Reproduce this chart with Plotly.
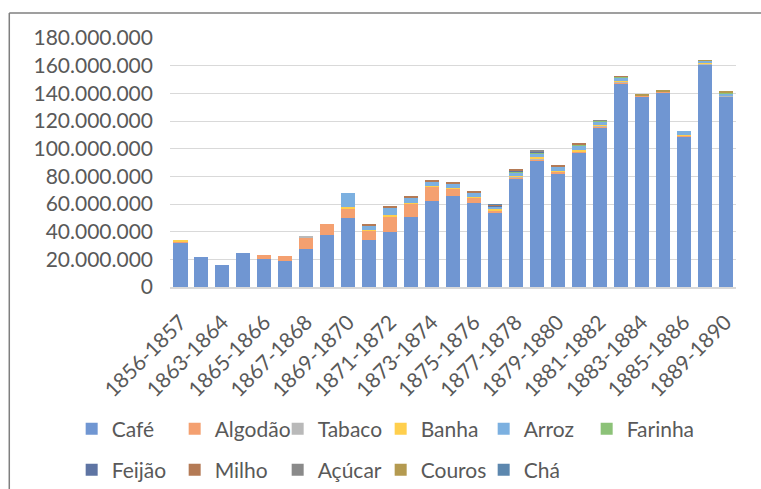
import plotly.graph_objects as go

# Harvest periods (fiscal years)
periods = [
    "1856-1857", "1862-1863", "1863-1864", "1864-1865", "1865-1866", "1866-1867",
    "1867-1868", "1868-1869", "1869-1870", "1870-1871", "1871-1872", "1872-1873",
    "1873-1874", "1874-1875", "1875-1876", "1876-1877", "1877-1878", "1878-1879",
    "1879-1880", "1880-1881", "1881-1882", "1882-1883", "1883-1884", "1884-1885",
    "1885-1886", "1887-1888", "1889-1890",
]

# Export values per product, in millions
cafe = [32.3, 21.4, 15.9, 24.8, 20.2, 19.0, 27.4, 37.8, 50.0, 34.0, 39.7, 50.6, 62.1, 65.9,
        60.8, 53.4, 78.1, 91.3, 82.2, 97.0, 115.0, 147.0, 138.0, 140.4, 108.5, 161.0, 137.5]
algodao = [0.5, 0, 0, 0, 3.1, 3.6, 8.5, 7.7, 7.0, 6.5, 11.5, 9.8, 10.3, 5.2,
           4.0, 2.1, 1.2, 1.0, 1.0, 0.7, 1.0, 0.6, 0.2, 0.8, 0.8, 0, 0.3]
tabaco = [0, 0, 0, 0, 0, 0, 0.5, 0, 0, 0, 0, 0, 0, 0,
          0, 0, 0.5, 0.8, 0, 0.5, 0.4, 1.2, 0.3, 0, 0, 0.5, 0.2]
banha = [1.3, 0, 0, 0, 0, 0, 0, 0, 0.5, 0.5, 0.5, 0.5, 0.7, 0.5,
         0.3, 1.2, 0.8, 0.8, 0.5, 0.8, 0.4, 0.3, 0, 0, 0.5, 0.5, 0]
arroz = [0, 0, 0, 0, 0, 0, 0, 0, 10.4, 3.4, 6.0, 3.8, 3.2, 3.3,
         3.2, 1.8, 2.5, 2.8, 3.2, 3.5, 3.0, 2.5, 0, 0, 2.8, 1.5, 2.0]
farinha = [0, 0, 0, 0, 0, 0, 0, 0, 0, 0, 0, 0, 0, 0,
           0, 0, 0.7, 0.8, 0.3, 0.3, 0.3, 0.4, 0, 0, 0, 0, 0.5]
feijao = [0, 0, 0, 0, 0, 0, 0, 0, 0, 0, 0, 0, 0, 0,
          0, 0.5, 0.3, 0.6, 0, 0.5, 0.3, 0, 0, 0, 0, 0, 0]
milho = [0, 0, 0, 0, 0, 0, 0, 0, 0, 1.0, 1.0, 0.8, 1.0, 0.8,
         0.6, 0.3, 0.7, 0, 0.5, 0.3, 0, 0.3, 0, 0, 0, 0, 0]
acucar = [0, 0, 0, 0, 0, 0, 0, 0, 0, 0, 0, 0, 0, 0,
          0, 0, 0, 0.4, 0, 0, 0.2, 0, 0, 0, 0, 0, 0]
couros = [0, 0, 0, 0, 0, 0, 0, 0, 0, 0, 0, 0, 0, 0,
          0, 0, 0, 0, 0, 0, 0, 0, 1.0, 1.3, 0, 0.3, 0.5]
cha = [0, 0, 0, 0, 0, 0, 0, 0, 0, 0, 0, 0, 0, 0,
       0, 0.2, 0, 0, 0, 0, 0, 0, 0, 0, 0, 0, 0]

series = [
    ("Café", cafe, "#7096D2", "legend"),
    ("Algodão", algodao, "#F4A070", "legend"),
    ("Tabaco", tabaco, "#B9B9B9", "legend"),
    ("Banha", banha, "#FFCF4D", "legend"),
    ("Arroz", arroz, "#7CB0E0", "legend"),
    ("Farinha", farinha, "#8CC278", "legend"),
    ("Feijão", feijao, "#5E74A3", "legend2"),
    ("Milho", milho, "#B47A55", "legend2"),
    ("Açúcar", acucar, "#8A8A8A", "legend2"),
    ("Couros", couros, "#B49A50", "legend2"),
    ("Chá", cha, "#5C87AE", "legend2"),
]

MILLION = 1_000_000
text_color = "#595959"
font_family = "Lato, 'Liberation Sans', sans-serif"
font_size = 21

fig = go.Figure()
for name, vals, color, leg in series:
    fig.add_trace(go.Bar(
        x=periods,
        y=[v * MILLION for v in vals],
        name=name,
        marker=dict(color=color, line=dict(width=0)),
        legend=leg,
    ))

# Blank spacer entry so the last text of the first legend row has room
fig.add_trace(go.Bar(
    x=periods, y=[None] * len(periods), name="\u00a0",
    showlegend=True,
    marker=dict(color="rgba(0,0,0,0)", line=dict(width=0)),
    legend="legend", hoverinfo="skip",
))

W, H = 761, 489
left, right, top, bottom = 169.5, 24.5, 38, 201.5
plot_w = W - left - right
plot_h = H - top - bottom


def px_x(p):
    return (p - left) / plot_w


def px_y(p):
    return (H - bottom - p) / plot_h


legend_common = dict(
    orientation="h",
    xref="paper",
    yref="paper",
    xanchor="left",
    yanchor="middle",
    x=px_x(71),
    entrywidth=58,
    entrywidthmode="pixels",
    font=dict(family=font_family, size=font_size, color=text_color),
    traceorder="normal",
    bgcolor="rgba(0,0,0,0)",
)

fig.update_layout(
    width=W,
    height=H,
    margin=dict(l=left, r=right, t=top, b=bottom, autoexpand=False),
    barmode="stack",
    bargap=0.33,
    plot_bgcolor="white",
    paper_bgcolor="white",
    separators=",.",
    font=dict(family=font_family, size=font_size, color=text_color),
    xaxis=dict(
        type="category",
        categoryorder="array",
        categoryarray=periods,
        tickmode="array",
        tickvals=periods[::2],
        ticktext=periods[::2],
        tickangle=-45,
        showgrid=False,
        showline=True,
        linecolor="#D9D9D9",
        linewidth=1.5,
        ticks="",
        ticklabelstandoff=13,
        automargin=False,
        tickfont=dict(family=font_family, size=font_size, color=text_color),
    ),
    yaxis=dict(
        range=[0, 180 * MILLION],
        dtick=20 * MILLION,
        tickformat=",d",
        showgrid=True,
        gridcolor="#D9D9D9",
        gridwidth=1,
        zeroline=False,
        showline=False,
        ticks="",
        ticklabelstandoff=16,
        automargin=False,
        tickfont=dict(family=font_family, size=font_size, color=text_color),
    ),
    legend=dict(legend_common, y=px_y(430)),
    legend2=dict(legend_common, y=px_y(471)),
    shapes=[
        dict(type="line", xref="paper", yref="paper",
             x0=px_x(8.5), x1=px_x(780), y0=px_y(13), y1=px_y(13),
             line=dict(color="#7F7F7F", width=1.5)),
        dict(type="line", xref="paper", yref="paper",
             x0=px_x(8.5), x1=px_x(8.5), y0=px_y(13), y1=px_y(500),
             line=dict(color="#7F7F7F", width=1.5)),
    ],
)

fig.write_html("out.html")
